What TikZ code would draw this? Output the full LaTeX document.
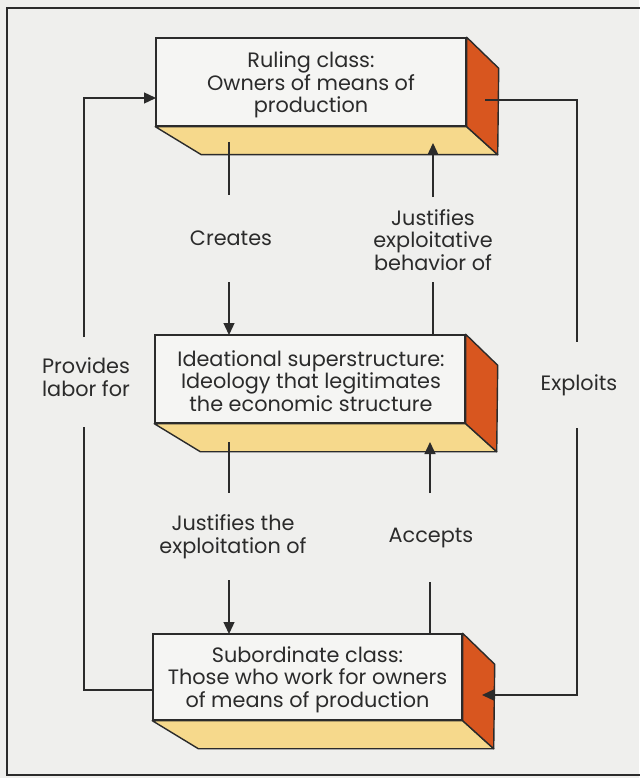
\documentclass[tikz,border=0pt]{standalone}
\usepackage{fontspec}
\setmainfont{Poppins}
\usetikzlibrary{arrows.meta,calc}
\definecolor{bg}{HTML}{EFEFED}
\definecolor{facewhite}{HTML}{F5F5F3}
\definecolor{ink}{HTML}{2B2B2B}
\definecolor{sand}{HTML}{F6D98C}
\definecolor{rust}{HTML}{D8561F}
\newcommand{\dtxt}{\fontsize{20.8}{22.5}\selectfont}
\begin{document}
\begin{tikzpicture}[x=1pt,y=-1pt,
  front/.style={draw=ink,line width=1.4pt,fill=facewhite,minimum width=310pt,minimum height=88pt,inner sep=0pt},
  sideface/.style={draw=ink,line width=1.4pt,fill=rust,line join=round},
  bottomface/.style={draw=ink,line width=1.4pt,fill=sand,line join=round},
  conn/.style={draw=ink,line width=1.3pt},
  arr/.style={conn,-{Triangle[length=12pt,width=11pt]}},
  lbl/.style={align=center,font=\dtxt,text=ink,inner sep=0pt}]
\useasboundingbox (0,0) rectangle (639,778);
\fill[bg] (0,0) rectangle (639,778);
\draw[ink,line width=1.6pt] (645,8) -- (7,8) -- (7,775) -- (645,775);

% boxes
\node[front] (top) at (311,82) {};
\node[front] (mid) at (310,379) {};
\node[front,minimum height=86pt,minimum width=309pt] (bot) at (307.5,677) {};

\foreach \b in {top,mid,bot}{
  \draw[bottomface] (\b.south west) -- (\b.south east) -- ($(\b.south east)+(31,28)$) -- ($(\b.south west)+(46,28)$) -- cycle;
  \draw[sideface] (\b.north east) -- ($(\b.north east)+(32,31)$) -- ($(\b.south east)+(31,28)$) -- (\b.south east) -- cycle;
}

\node[lbl] (topT) at ($(top.center)+(0,3)$) {Ruling class:\\Owners of means of\\production};
\node[lbl] (midT) at ($(mid.center)+(1,2)$) {Ideational superstructure:\\Ideology that legitimates\\the economic structure};
\node[lbl] (botT) at ($(bot.center)+(0,2.5)$) {Subordinate class:\\Those who work for owners\\of means of production};

% labels
\node[lbl] (creates) at (231,238) {Creates};
\node[lbl] (justA) at (433,240) {Justifies\\exploitative\\behavior of};
\node[lbl] (justB) at (233,537) {Justifies the\\exploitation of};
\node[lbl] (accepts) at (431,538) {Accepts};
\node[lbl] (provides) at (86,377) {Provides\\labor for};
\node[lbl] (exploits) at (579,385) {Exploits};

% vertical connectors
\coordinate (a0) at (229,142); \coordinate (a1) at (229,195);
\coordinate (a2) at (229,282); \coordinate (a3) at (229,335);
\draw[conn] (a0) -- (a1);
\draw[arr] (a2) -- (a3);

\coordinate (b0) at (433,335); \coordinate (b1) at (433,282);
\coordinate (b2) at (433,197); \coordinate (b3) at (433,143);
\draw[conn] (b0) -- (b1);
\draw[arr] (b2) -- (b3);

\coordinate (c0) at (229,442); \coordinate (c1) at (229,493);
\coordinate (c2) at (229,580); \coordinate (c3) at (229,634);
\draw[conn] (c0) -- (c1);
\draw[arr] (c2) -- (c3);

\coordinate (d0) at (430,634); \coordinate (d1) at (430,582);
\coordinate (d2) at (430,493); \coordinate (d3) at (430,442);
\draw[conn] (d0) -- (d1);
\draw[arr] (d2) -- (d3);

% left loop
\coordinate (l0) at (153,690); \coordinate (l1) at (84,427);
\coordinate (l2) at (84,337); \coordinate (l3) at (156,98);
\draw[conn] (l0) -- (l0 -| l1) -- (l1);
\draw[arr] (l2) -- (l2 |- l3) -- (l3);

% right loop
\coordinate (r0) at (485,100); \coordinate (r1) at (577,342);
\coordinate (r2) at (577,428); \coordinate (r3) at (482,695);
\draw[conn] (r0) -- (r0 -| r1) -- (r1);
\draw[arr] (r2) -- (r2 |- r3) -- (r3);
\end{tikzpicture}
\end{document}
